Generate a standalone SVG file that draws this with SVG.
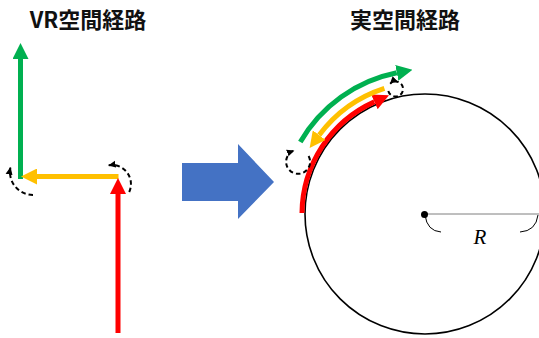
<svg xmlns="http://www.w3.org/2000/svg" width="539" height="338" viewBox="0 0 539 338">
  <defs>
    <style>
      .title { font-family: "Noto Sans CJK JP", "Noto Sans", sans-serif; font-weight: bold; font-size: 22px; fill: #111; text-anchor: middle; }
      .thick { fill: none; stroke-width: 5; stroke-linecap: butt; }
      .dash { fill: none; stroke: #000; stroke-width: 2; stroke-dasharray: 4.5 3; }
      .red { stroke: #FF0000; }
      .yel { stroke: #FFC000; }
      .grn { stroke: #00B050; }
    </style>
    <marker id="hRed" markerUnits="userSpaceOnUse" markerWidth="16" markerHeight="16" viewBox="0 -8 16 16" refX="0" refY="0" orient="auto">
      <path d="M0,-8 L16,0 L0,8 Z" fill="#FF0000"/>
    </marker>
    <marker id="hYel" markerUnits="userSpaceOnUse" markerWidth="16" markerHeight="16" viewBox="0 -8 16 16" refX="0" refY="0" orient="auto">
      <path d="M0,-8 L16,0 L0,8 Z" fill="#FFC000"/>
    </marker>
    <marker id="hGrn" markerUnits="userSpaceOnUse" markerWidth="16" markerHeight="16" viewBox="0 -8 16 16" refX="0" refY="0" orient="auto">
      <path d="M0,-8 L16,0 L0,8 Z" fill="#00B050"/>
    </marker>
    <marker id="hDash" markerUnits="userSpaceOnUse" markerWidth="8" markerHeight="8" viewBox="0 -4 8 8" refX="7" refY="0" orient="auto">
      <path d="M0,-3.5 L7.5,0 L0,3.5 Z" fill="#000"/>
    </marker>
  </defs>

  <rect width="539" height="338" fill="#fff"/>

  <g id="title-vr">
    <text class="title" x="88" y="28">VR空間経路</text>
  </g>
  <g id="title-real">
    <text class="title" x="405" y="28">実空間経路</text>
  </g>

  <g id="vr-path">
    <path class="thick grn" d="M20.5,179 V59" marker-end="url(#hGrn)"/>
    <path class="thick yel" d="M118.5,176.5 H37" marker-end="url(#hYel)"/>
    <path class="thick red" d="M118,333 V194" marker-end="url(#hRed)"/>
    <path class="dash" d="M33,195 A23,23 0 0 1 10.4,167.6" marker-end="url(#hDash)"/>
    <path class="dash" d="M129.2,192 A19,19 0 0 0 108.7,165.3" marker-end="url(#hDash)"/>
  </g>

  <g id="transform-arrow">
    <polygon points="182,163 238,163 238,144 274,182 238,219 238,201 182,201" fill="#4472C4"/>
  </g>

  <g id="real-circle">
    <circle cx="425" cy="214" r="120" fill="none" stroke="#000" stroke-width="1.6"/>
    <line x1="425" y1="214" x2="539" y2="214" stroke="#7f7f7f" stroke-width="1"/>
    <circle cx="424.5" cy="214.5" r="3.5" fill="#000"/>
    <path d="M425,215 Q427,231 441,232" fill="none" stroke="#000" stroke-width="1"/>
    <path d="M538,215 Q536,231 520,232" fill="none" stroke="#000" stroke-width="1"/>
    <text x="480" y="244" font-family="Liberation Serif, serif" font-style="italic" font-size="21" text-anchor="middle" fill="#000">R</text>
  </g>

  <g id="real-path">
    <path class="thick red" d="M302,212.9 A123,123 0 0 1 374.4,101.9" marker-end="url(#hRed)"/>
    <path class="thick yel" d="M384.4,88.4 A132,132 0 0 0 319.2,135.1" marker-end="url(#hYel)"/>
    <path class="thick grn" d="M300.3,142 A144,144 0 0 1 396.8,72.8" marker-end="url(#hGrn)"/>
    <path class="dash" d="M388.3,90.9 A7.5,7.5 0 1 0 390.2,83.7" marker-end="url(#hDash)"/>
    <path class="dash" d="M308.6,156 A12,12 0 1 1 293.9,150.6" marker-end="url(#hDash)"/>
  </g>
</svg>
